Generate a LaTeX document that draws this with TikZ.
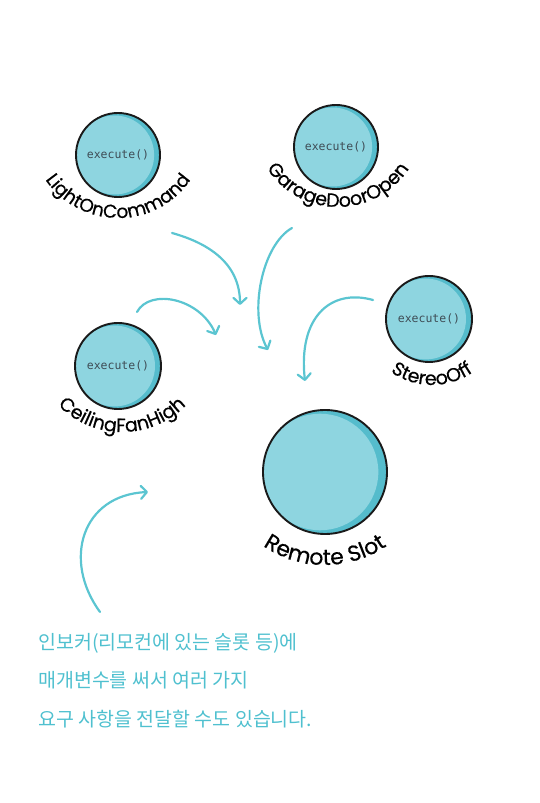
\documentclass[tikz,border=0pt]{standalone}
\usepackage{fontspec}
\setmainfont{Poppins}
\newfontfamily\labelfont{Poppins}[FakeBold=0.5]
\newfontfamily\monofont{DejaVu Sans Mono}
\newfontfamily\korfont{Noto Sans CJK KR}
\usetikzlibrary{arrows.meta,decorations.text}
\definecolor{cyanlight}{HTML}{8ED5E0}
\definecolor{cyandark}{HTML}{55BCCC}
\definecolor{arrowc}{HTML}{5BC5D1}
\definecolor{korc}{HTML}{4FC0CF}
\definecolor{outlinec}{HTML}{1A1A1A}
\definecolor{exectext}{HTML}{3E4C55}
\newcommand{\curvelab}[5]{%
  \path[decorate, decoration={text along path, text align=center,
    text={|\labelfont\fontsize{#4}{#4}\selectfont|#5}}]
    ([shift={(185:#3)}]#1,#2) arc[start angle=185, end angle=355, radius=#3];
}
\tikzset{
  btn/.style={circle, draw=outlinec, line width=1.9pt, fill=cyandark,
    minimum size=#1, inner sep=0pt, text=exectext,
    font=\monofont\fontsize{11.5}{13}\selectfont,
    path picture={\fill[cyanlight] ([xshift=-0.04*#1]path picture bounding box.center)
      circle[radius=0.47*#1];}},
  arr/.style={draw=arrowc, line width=2.2pt, line cap=round,
    -{Straight Barb[round,length=6pt,width=13pt]}},
  kor/.style={anchor=base west, text=korc, inner sep=0pt,
    font=\korfont\fontsize{19.5}{19.5}\selectfont}
}
\begin{document}
\begin{tikzpicture}[x=1pt,y=1pt]
\useasboundingbox (0,0) rectangle (539,803);
% buttons
\node[btn=84] (light) at (118,648) {execute()};
\node[btn=84] (garage) at (336,656) {execute()};
\node[btn=86] (fan) at (118,437) {execute()};
\node[btn=86] (stereo) at (429,484) {execute()};
\node[btn=124] (slot) at (325,331) {};
% curved labels
\curvelab{118}{673}{88}{18.5}{LightOnCommand}
\curvelab{338}{681}{85}{19}{GarageDoorOpen}
\curvelab{122}{461}{90}{19}{CeilingFanHigh}
\curvelab{432}{490}{72}{19}{StereoOff}
\curvelab{325}{348}{110}{22}{Remote Slot}
% arrow ends
\coordinate (a1s) at (172,570);
\coordinate (a1e) at (240,498);
\coordinate (a2s) at (292,575);
\coordinate (a2e) at (268,453);
\coordinate (a3s) at (137,491);
\coordinate (a3e) at (216,468);
\coordinate (a4s) at (373,503);
\coordinate (a4e) at (305,422);
\coordinate (a5s) at (100,191);
\coordinate (a5e) at (148,311);
\draw[arr] (a1s) .. controls (208,560) and (240,540) .. (a1e);
\draw[arr] (a2s) .. controls (262,558) and (248,490) .. (a2e);
\draw[arr] (a3s) .. controls (150,515) and (200,505) .. (a3e);
\draw[arr] (a4s) .. controls (330,515) and (298,485) .. (a4e);
\draw[arr] (a5s) .. controls (62,243) and (82,308) .. (a5e);
% Korean text
\node[kor] (k1) at (38,153) {인보커(리모컨에 있는 슬롯 등)에};
\node[kor] (k2) at (38,115) {매개변수를 써서 여러 가지};
\node[kor] (k3) at (38,76) {요구 사항을 전달할 수도 있습니다.};
\end{tikzpicture}
\end{document}
